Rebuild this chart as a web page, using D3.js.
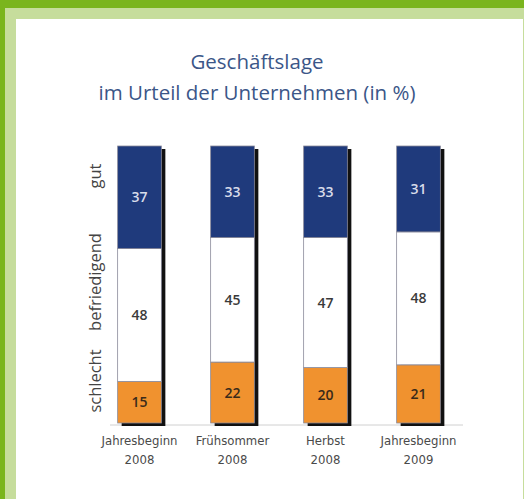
<!DOCTYPE html>
<html>
<head>
<meta charset="utf-8">
<script src="https://cdn.jsdelivr.net/npm/d3@7"></script>
<style>
  body { margin: 0; background: #fff; }
  svg { display: block; }
</style>
</head>
<body>
<svg id="chart" width="524" height="499"></svg>
<script>
// data
var categories = ["Jahresbeginn 2008", "Frühsommer 2008", "Herbst 2008", "Jahresbeginn 2009"];
var gut = [37, 33, 33, 31];
var befriedigend = [48, 45, 47, 48];
var schlecht = [15, 22, 20, 21];
var seriesNames = ["schlecht", "befriedigend", "gut"];
var titleLines = ["Geschäftslage", "im Urteil der Unternehmen (in %)"];

var colours = {gut: "#1f3a7c", befriedigend: "#ffffff", schlecht: "#f0922f"};
var labelColours = {gut: "#d8dcea", befriedigend: "#3a3a3a", schlecht: "#3a2a1a"};

var svg = d3.select("#chart");

// green frame
svg.append("rect").attr("x", 0).attr("y", 0).attr("width", 524).attr("height", 499).attr("fill", "#7ab51d");
svg.append("rect").attr("x", 5).attr("y", 8).attr("width", 519).attr("height", 491).attr("fill", "#c6dd9c");
svg.append("rect").attr("x", 16).attr("y", 19).attr("width", 507).attr("height", 480).attr("fill", "#ffffff");

// title
svg.append("g").selectAll("text")
    .data(titleLines)
  .enter().append("text")
    .attr("x", 257)
    .attr("y", function(d, i) { return 69 + i * 31; })
    .attr("text-anchor", "middle")
    .style("font-family", "'Open Sans', sans-serif")
    .style("font-size", "20.5px")
    .style("fill", "#3b5688")
    .text(function(d) { return d; });

// build table for the stack
var table = categories.map(function(c, i) {
  return {cat: c, gut: gut[i], befriedigend: befriedigend[i], schlecht: schlecht[i]};
});
var stacked = d3.stack().keys(seriesNames)(table);

var x = d3.scaleBand().domain(categories).range([93, 465]).paddingInner(0.53).paddingOuter(0.265);
var y = d3.scaleLinear().domain([0, 100]).range([423, 146]);

// baseline
svg.append("line")
    .attr("x1", 110).attr("x2", 463)
    .attr("y1", y(0) + 2).attr("y2", y(0) + 2)
    .attr("stroke", "#d0d0d0").attr("stroke-width", 1);

// shadows
svg.append("g").selectAll("rect")
    .data(categories)
  .enter().append("rect")
    .attr("x", function(d) { return x(d) + 4; })
    .attr("y", y(100) + 3)
    .attr("width", x.bandwidth())
    .attr("height", y(0) - y(100))
    .attr("fill", "#111");

// segments
var layer = svg.append("g").selectAll("g")
    .data(stacked)
  .enter().append("g")
    .attr("fill", function(d) { return colours[d.key]; });

layer.selectAll("rect")
    .data(function(d) { return d; })
  .enter().append("rect")
    .attr("x", function(d) { return x(d.data.cat); })
    .attr("y", function(d) { return y(d[1]); })
    .attr("width", x.bandwidth())
    .attr("height", function(d) { return y(d[0]) - y(d[1]); })
    .attr("stroke", "#8a8a9a")
    .attr("stroke-width", 0.8);

// value labels
svg.append("g").selectAll("g")
    .data(stacked)
  .enter().append("g")
    .style("fill", function(d) { return labelColours[d.key]; })
  .selectAll("text")
    .data(function(d) { return d; })
  .enter().append("text")
    .attr("x", function(d) { return x(d.data.cat) + x.bandwidth() / 2; })
    .attr("y", function(d) { return (y(d[0]) + y(d[1])) / 2 + 5; })
    .attr("text-anchor", "middle")
    .style("font-family", "'Open Sans', sans-serif")
    .style("font-size", "14px")
    .style("font-weight", "600")
    .text(function(d) { return d[1] - d[0]; });

// category labels (two lines)
var catLabels = svg.append("g").selectAll("text")
    .data(categories)
  .enter().append("text")
    .attr("x", function(d) { return x(d) + x.bandwidth() / 2; })
    .attr("y", 445)
    .attr("text-anchor", "middle")
    .style("font-family", "'Liberation Sans Narrow', 'DejaVu Sans Condensed', sans-serif")
    .style("font-size", "13px")
    .style("fill", "#4a4a4a");
catLabels.selectAll("tspan")
    .data(function(d) { return d.split(" "); })
  .enter().append("tspan")
    .attr("x", function() { var p = this.parentNode.__data__; return x(p) + x.bandwidth() / 2; })
    .attr("dy", function(d, i) { return i === 0 ? 0 : 19; })
    .text(function(d) { return d; });

// rotated series labels on the left
var seriesLabelY = {gut: 176, befriedigend: 282, schlecht: 381};
svg.append("g").selectAll("text")
    .data(seriesNames)
  .enter().append("text")
    .attr("transform", function(d) { return "translate(101," + seriesLabelY[d] + ")rotate(-90)"; })
    .attr("text-anchor", "middle")
    .style("font-family", "'Open Sans', sans-serif")
    .style("font-size", "16.5px")
    .style("fill", "#444")
    .text(function(d) { return d; });
</script>
</body>
</html>
